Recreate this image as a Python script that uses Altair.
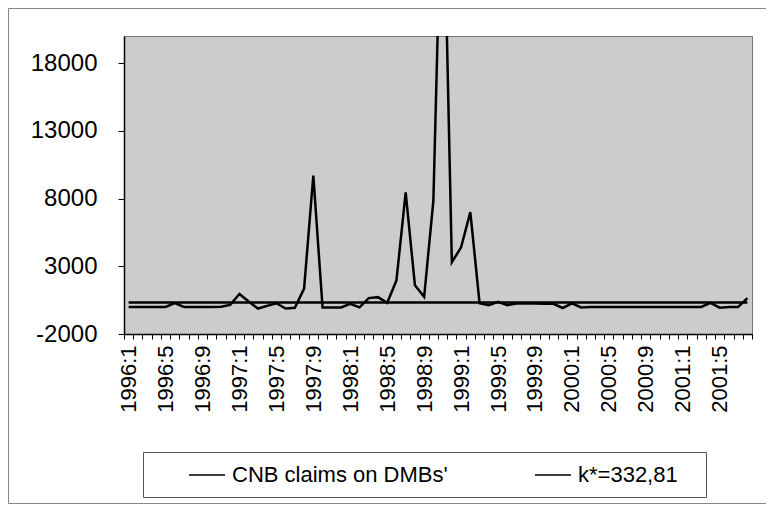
import altair as alt
import pandas as pd

# Categories: monthly observations 1996:1 .. 2001:8
years = [1996, 1997, 1998, 1999, 2000, 2001]
months = [f"{y}:{m}" for y in years for m in range(1, 13)][:68]

# CNB claims on DMBs'
claims = [
    0, 0, 0, 0, 0, 280, 0, 0, 0, 0,
    20, 150, 950, 400, -120, 80, 270, -120, -60, 1350,
    9700, -50, -50, -40, 230, -30, 650, 720, 300, 1950,
    8450, 1600, 750, 7850, 34500, 3300, 4400, 7000, 280, 120,
    380, 130, 250, 260, 250, 240, 230, -80, 260, -40,
    0, 0, 0, 0, 0, 0, 0, 0, 0, 0,
    0, 0, 0, 300, -60, 0, 0, 650,
]
k_value = 332.81
series_names = ["CNB claims on DMBs'", "k*=332,81"]
y_ticks = [-2000, 3000, 8000, 13000, 18000]

rows = []
for i, m in enumerate(months):
    rows.append({"month": m, "value": claims[i], "series": series_names[0], "order": i})
for i, m in enumerate(months):
    rows.append({"month": m, "value": k_value, "series": series_names[1], "order": i})
df = pd.DataFrame(rows)

label_months = [m for m in months if int(m.split(":")[1]) % 4 == 1]
label_expr = ("indexof([" + ",".join(f"'{m}'" for m in label_months) +
              "], datum.label) >= 0 ? datum.label : ''")

FONT = "Liberation Sans"

x_enc = alt.X(
    "month:O",
    sort=months,
    bandPosition=0.5,
    scale=alt.Scale(type="band", paddingInner=0, paddingOuter=0),
    axis=alt.Axis(
        title=None, labelAngle=-90, labelExpr=label_expr, tickBand="extent",
        tickSize=5, labelPadding=6, labelFontSize=22, labelFont=FONT,
        labelColor="black", domainColor="black", domainWidth=1.5,
        tickColor="black", tickWidth=1, grid=False,
    ),
)
y_enc = alt.Y(
    "value:Q",
    scale=alt.Scale(domain=[-2000, 20000], nice=False, zero=False),
    axis=alt.Axis(
        title=None, values=y_ticks, grid=False, tickSize=6, labelPadding=21,
        labelExpr="'' + datum.value",
        labelFontSize=24, labelFont=FONT, labelColor="black",
        domainColor="black", domainWidth=1.5, tickColor="black",
    ),
)

lines = alt.Chart(df).mark_line(clip=True, strokeWidth=2.5, strokeJoin="miter").encode(
    x=x_enc,
    y=y_enc,
    order="order:Q",
    color=alt.Color(
        "series:N",
        scale=alt.Scale(domain=series_names, range=["black", "black"]),
        legend=alt.Legend(
            title=None, orient="none", legendX=64, legendY=420,
            direction="horizontal", symbolType="stroke", symbolSize=1296,
            symbolStrokeWidth=1.5, labelFontSize=22, labelFont=FONT,
            labelColor="black", labelOffset=6, columnPadding=84,
            padding=0, labelLimit=400,
        ),
    ),
)

# decorative frames: chart area border and legend box
frame = alt.Chart(pd.DataFrame({"f": [0]})).mark_rect(
    filled=False, stroke="#888", strokeWidth=1
).encode(
    x=alt.value(-115.5), x2=alt.value(646.5), y=alt.value(-27.5), y2=alt.value(467.5)
)
legend_box = alt.Chart(pd.DataFrame({"f": [0]})).mark_rect(
    fill="white", stroke="#555", strokeWidth=1
).encode(
    x=alt.value(19.5), x2=alt.value(582.5), y=alt.value(416.5), y2=alt.value(461.5)
)

chart = alt.layer(frame, legend_box, lines).properties(
    width=628, height=298,
    autosize=alt.AutoSizeParams(type="none"),
    padding={"left": 116, "top": 28, "right": 14, "bottom": 170},
    background="white",
).configure_view(fill="#cccccc", stroke="#777", strokeWidth=1)

chart.save("out.html", embed_options={"renderer": "svg", "actions": False})
